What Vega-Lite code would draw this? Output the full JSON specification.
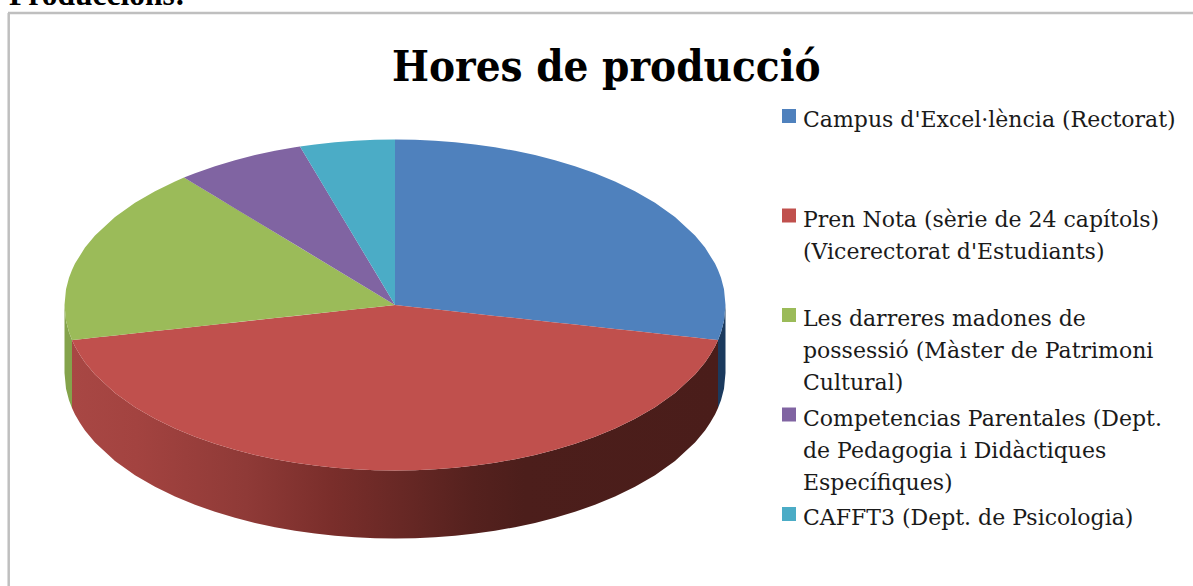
{
"$schema":"https://vega.github.io/schema/vega-lite/v6.json",
"width":1193,"height":586,"padding":0,"autosize":{"type":"none"},
"background":"#ffffff",
"config":{"view":{"stroke":null}},
"title":{"text":"Hores de producció","font":"DejaVu Serif Condensed","fontWeight":"bold","fontSize":43.5,"color":"#000000","anchor":"start","frame":"group","dx":392,"dy":144,"offset":0,"baseline":"alphabetic"},
"datasets":{
"slices":[
{"slice":"Campus d'Excel·lència (Rectorat)","x":395,"y":139.5,"y2":305},{"slice":"Campus d'Excel·lència (Rectorat)","x":415,"y":139.8,"y2":307.2},{"slice":"Campus d'Excel·lència (Rectorat)","x":435,"y":140.7,"y2":309.3},{"slice":"Campus d'Excel·lència (Rectorat)","x":455,"y":142.3,"y2":311.5},{"slice":"Campus d'Excel·lència (Rectorat)","x":475,"y":144.4,"y2":313.7},{"slice":"Campus d'Excel·lència (Rectorat)","x":495,"y":147.3,"y2":315.9},{"slice":"Campus d'Excel·lència (Rectorat)","x":515,"y":150.8,"y2":318},{"slice":"Campus d'Excel·lència (Rectorat)","x":535,"y":155.1,"y2":320.2},{"slice":"Campus d'Excel·lència (Rectorat)","x":555,"y":160.2,"y2":322.4},{"slice":"Campus d'Excel·lència (Rectorat)","x":575,"y":166.2,"y2":324.6},{"slice":"Campus d'Excel·lència (Rectorat)","x":595,"y":173.2,"y2":326.7},{"slice":"Campus d'Excel·lència (Rectorat)","x":615,"y":181.5,"y2":328.9},{"slice":"Campus d'Excel·lència (Rectorat)","x":635,"y":191.2,"y2":331.1},{"slice":"Campus d'Excel·lència (Rectorat)","x":655,"y":202.8,"y2":333.3},{"slice":"Campus d'Excel·lència (Rectorat)","x":675,"y":217.1,"y2":335.4},{"slice":"Campus d'Excel·lència (Rectorat)","x":695,"y":235.6,"y2":337.6},{"slice":"Campus d'Excel·lència (Rectorat)","x":705,"y":247.6,"y2":338.7},{"slice":"Campus d'Excel·lència (Rectorat)","x":715,"y":263.6,"y2":339.8},{"slice":"Campus d'Excel·lència (Rectorat)","x":718,"y":269.9,"y2":340.1},{"slice":"Campus d'Excel·lència (Rectorat)","x":721,"y":277.8,"y2":332.2},{"slice":"Campus d'Excel·lència (Rectorat)","x":724,"y":289.3,"y2":320.7},{"slice":"Campus d'Excel·lència (Rectorat)","x":725.5,"y":305,"y2":305},
{"slice":"Pren Nota (sèrie de 24 capítols) (Vicerectorat d'Estudiants)","x":72,"y":340.1,"y2":340.1},{"slice":"Pren Nota (sèrie de 24 capítols) (Vicerectorat d'Estudiants)","x":75,"y":339.8,"y2":346.4},{"slice":"Pren Nota (sèrie de 24 capítols) (Vicerectorat d'Estudiants)","x":80,"y":339.2,"y2":355.1},{"slice":"Pren Nota (sèrie de 24 capítols) (Vicerectorat d'Estudiants)","x":85,"y":338.7,"y2":362.4},{"slice":"Pren Nota (sèrie de 24 capítols) (Vicerectorat d'Estudiants)","x":95,"y":337.6,"y2":374.4},{"slice":"Pren Nota (sèrie de 24 capítols) (Vicerectorat d'Estudiants)","x":115,"y":335.4,"y2":392.9},{"slice":"Pren Nota (sèrie de 24 capítols) (Vicerectorat d'Estudiants)","x":135,"y":333.3,"y2":407.2},{"slice":"Pren Nota (sèrie de 24 capítols) (Vicerectorat d'Estudiants)","x":155,"y":331.1,"y2":418.8},{"slice":"Pren Nota (sèrie de 24 capítols) (Vicerectorat d'Estudiants)","x":175,"y":328.9,"y2":428.5},{"slice":"Pren Nota (sèrie de 24 capítols) (Vicerectorat d'Estudiants)","x":195,"y":326.7,"y2":436.8},{"slice":"Pren Nota (sèrie de 24 capítols) (Vicerectorat d'Estudiants)","x":215,"y":324.6,"y2":443.8},{"slice":"Pren Nota (sèrie de 24 capítols) (Vicerectorat d'Estudiants)","x":235,"y":322.4,"y2":449.8},{"slice":"Pren Nota (sèrie de 24 capítols) (Vicerectorat d'Estudiants)","x":255,"y":320.2,"y2":454.9},{"slice":"Pren Nota (sèrie de 24 capítols) (Vicerectorat d'Estudiants)","x":275,"y":318,"y2":459.2},{"slice":"Pren Nota (sèrie de 24 capítols) (Vicerectorat d'Estudiants)","x":295,"y":315.9,"y2":462.7},{"slice":"Pren Nota (sèrie de 24 capítols) (Vicerectorat d'Estudiants)","x":315,"y":313.7,"y2":465.6},{"slice":"Pren Nota (sèrie de 24 capítols) (Vicerectorat d'Estudiants)","x":335,"y":311.5,"y2":467.7},{"slice":"Pren Nota (sèrie de 24 capítols) (Vicerectorat d'Estudiants)","x":355,"y":309.3,"y2":469.3},{"slice":"Pren Nota (sèrie de 24 capítols) (Vicerectorat d'Estudiants)","x":375,"y":307.2,"y2":470.2},{"slice":"Pren Nota (sèrie de 24 capítols) (Vicerectorat d'Estudiants)","x":395,"y":305,"y2":470.5},{"slice":"Pren Nota (sèrie de 24 capítols) (Vicerectorat d'Estudiants)","x":415,"y":307.2,"y2":470.2},{"slice":"Pren Nota (sèrie de 24 capítols) (Vicerectorat d'Estudiants)","x":435,"y":309.3,"y2":469.3},{"slice":"Pren Nota (sèrie de 24 capítols) (Vicerectorat d'Estudiants)","x":455,"y":311.5,"y2":467.7},{"slice":"Pren Nota (sèrie de 24 capítols) (Vicerectorat d'Estudiants)","x":475,"y":313.7,"y2":465.6},{"slice":"Pren Nota (sèrie de 24 capítols) (Vicerectorat d'Estudiants)","x":495,"y":315.9,"y2":462.7},{"slice":"Pren Nota (sèrie de 24 capítols) (Vicerectorat d'Estudiants)","x":515,"y":318,"y2":459.2},{"slice":"Pren Nota (sèrie de 24 capítols) (Vicerectorat d'Estudiants)","x":535,"y":320.2,"y2":454.9},{"slice":"Pren Nota (sèrie de 24 capítols) (Vicerectorat d'Estudiants)","x":555,"y":322.4,"y2":449.8},{"slice":"Pren Nota (sèrie de 24 capítols) (Vicerectorat d'Estudiants)","x":575,"y":324.6,"y2":443.8},{"slice":"Pren Nota (sèrie de 24 capítols) (Vicerectorat d'Estudiants)","x":595,"y":326.7,"y2":436.8},{"slice":"Pren Nota (sèrie de 24 capítols) (Vicerectorat d'Estudiants)","x":615,"y":328.9,"y2":428.5},{"slice":"Pren Nota (sèrie de 24 capítols) (Vicerectorat d'Estudiants)","x":635,"y":331.1,"y2":418.8},{"slice":"Pren Nota (sèrie de 24 capítols) (Vicerectorat d'Estudiants)","x":655,"y":333.3,"y2":407.2},{"slice":"Pren Nota (sèrie de 24 capítols) (Vicerectorat d'Estudiants)","x":675,"y":335.4,"y2":392.9},{"slice":"Pren Nota (sèrie de 24 capítols) (Vicerectorat d'Estudiants)","x":695,"y":337.6,"y2":374.4},{"slice":"Pren Nota (sèrie de 24 capítols) (Vicerectorat d'Estudiants)","x":705,"y":338.7,"y2":362.4},{"slice":"Pren Nota (sèrie de 24 capítols) (Vicerectorat d'Estudiants)","x":710,"y":339.2,"y2":355.1},{"slice":"Pren Nota (sèrie de 24 capítols) (Vicerectorat d'Estudiants)","x":715,"y":339.8,"y2":346.4},{"slice":"Pren Nota (sèrie de 24 capítols) (Vicerectorat d'Estudiants)","x":718,"y":340.1,"y2":340.1},
{"slice":"Les darreres madones de possessió (Màster de Patrimoni Cultural)","x":64.5,"y":305,"y2":305},{"slice":"Les darreres madones de possessió (Màster de Patrimoni Cultural)","x":66,"y":289.3,"y2":320.7},{"slice":"Les darreres madones de possessió (Màster de Patrimoni Cultural)","x":69,"y":277.8,"y2":332.2},{"slice":"Les darreres madones de possessió (Màster de Patrimoni Cultural)","x":72,"y":269.9,"y2":340.1},{"slice":"Les darreres madones de possessió (Màster de Patrimoni Cultural)","x":75,"y":263.6,"y2":339.8},{"slice":"Les darreres madones de possessió (Màster de Patrimoni Cultural)","x":85,"y":247.6,"y2":338.7},{"slice":"Les darreres madones de possessió (Màster de Patrimoni Cultural)","x":95,"y":235.6,"y2":337.6},{"slice":"Les darreres madones de possessió (Màster de Patrimoni Cultural)","x":115,"y":217.1,"y2":335.4},{"slice":"Les darreres madones de possessió (Màster de Patrimoni Cultural)","x":135,"y":202.8,"y2":333.3},{"slice":"Les darreres madones de possessió (Màster de Patrimoni Cultural)","x":155,"y":191.2,"y2":331.1},{"slice":"Les darreres madones de possessió (Màster de Patrimoni Cultural)","x":175,"y":181.5,"y2":328.9},{"slice":"Les darreres madones de possessió (Màster de Patrimoni Cultural)","x":184,"y":177.6,"y2":327.9},{"slice":"Les darreres madones de possessió (Màster de Patrimoni Cultural)","x":395,"y":305,"y2":305},
{"slice":"Competencias Parentales (Dept. de Pedagogia i Didàctiques Específiques)","x":184,"y":177.6,"y2":177.6},{"slice":"Competencias Parentales (Dept. de Pedagogia i Didàctiques Específiques)","x":195,"y":173.2,"y2":184.2},{"slice":"Competencias Parentales (Dept. de Pedagogia i Didàctiques Específiques)","x":215,"y":166.2,"y2":196.3},{"slice":"Competencias Parentales (Dept. de Pedagogia i Didàctiques Específiques)","x":235,"y":160.2,"y2":208.4},{"slice":"Competencias Parentales (Dept. de Pedagogia i Didàctiques Específiques)","x":255,"y":155.1,"y2":220.5},{"slice":"Competencias Parentales (Dept. de Pedagogia i Didàctiques Específiques)","x":275,"y":150.8,"y2":232.5},{"slice":"Competencias Parentales (Dept. de Pedagogia i Didàctiques Específiques)","x":295,"y":147.3,"y2":244.6},{"slice":"Competencias Parentales (Dept. de Pedagogia i Didàctiques Específiques)","x":300,"y":146.5,"y2":247.6},{"slice":"Competencias Parentales (Dept. de Pedagogia i Didàctiques Específiques)","x":395,"y":305,"y2":305},
{"slice":"CAFFT3 (Dept. de Psicologia)","x":300,"y":146.5,"y2":146.5},{"slice":"CAFFT3 (Dept. de Psicologia)","x":315,"y":144.4,"y2":171.5},{"slice":"CAFFT3 (Dept. de Psicologia)","x":335,"y":142.3,"y2":204.9},{"slice":"CAFFT3 (Dept. de Psicologia)","x":355,"y":140.7,"y2":238.3},{"slice":"CAFFT3 (Dept. de Psicologia)","x":375,"y":139.8,"y2":271.6},{"slice":"CAFFT3 (Dept. de Psicologia)","x":395,"y":139.5,"y2":305}
],
"walls":[
{"part":"green","x":64.5,"y":305,"y2":373},{"part":"green","x":66,"y":320.7,"y2":388.7},{"part":"green","x":69,"y":332.2,"y2":400.2},{"part":"green","x":72,"y":340.1,"y2":408.1},
{"part":"blue","x":718,"y":340.1,"y2":408.1},{"part":"blue","x":721,"y":332.2,"y2":400.2},{"part":"blue","x":724,"y":320.7,"y2":388.7},{"part":"blue","x":725.5,"y":305,"y2":373},
{"part":"red","x":72,"y":340.1,"y2":408.1},{"part":"red","x":75,"y":346.4,"y2":414.4},{"part":"red","x":80,"y":355.1,"y2":423.1},{"part":"red","x":85,"y":362.4,"y2":430.4},{"part":"red","x":95,"y":374.4,"y2":442.4},{"part":"red","x":115,"y":392.9,"y2":460.9},{"part":"red","x":135,"y":407.2,"y2":475.2},{"part":"red","x":155,"y":418.8,"y2":486.8},{"part":"red","x":175,"y":428.5,"y2":496.5},{"part":"red","x":195,"y":436.8,"y2":504.8},{"part":"red","x":215,"y":443.8,"y2":511.8},{"part":"red","x":235,"y":449.8,"y2":517.8},{"part":"red","x":255,"y":454.9,"y2":522.9},{"part":"red","x":275,"y":459.2,"y2":527.2},{"part":"red","x":295,"y":462.7,"y2":530.7},{"part":"red","x":315,"y":465.6,"y2":533.6},{"part":"red","x":335,"y":467.7,"y2":535.7},{"part":"red","x":355,"y":469.3,"y2":537.3},{"part":"red","x":375,"y":470.2,"y2":538.2},{"part":"red","x":395,"y":470.5,"y2":538.5},{"part":"red","x":415,"y":470.2,"y2":538.2},{"part":"red","x":435,"y":469.3,"y2":537.3},{"part":"red","x":455,"y":467.7,"y2":535.7},{"part":"red","x":475,"y":465.6,"y2":533.6},{"part":"red","x":495,"y":462.7,"y2":530.7},{"part":"red","x":515,"y":459.2,"y2":527.2},{"part":"red","x":535,"y":454.9,"y2":522.9},{"part":"red","x":555,"y":449.8,"y2":517.8},{"part":"red","x":575,"y":443.8,"y2":511.8},{"part":"red","x":595,"y":436.8,"y2":504.8},{"part":"red","x":615,"y":428.5,"y2":496.5},{"part":"red","x":635,"y":418.8,"y2":486.8},{"part":"red","x":655,"y":407.2,"y2":475.2},{"part":"red","x":675,"y":392.9,"y2":460.9},{"part":"red","x":695,"y":374.4,"y2":442.4},{"part":"red","x":705,"y":362.4,"y2":430.4},{"part":"red","x":710,"y":355.1,"y2":423.1},{"part":"red","x":715,"y":346.4,"y2":414.4},{"part":"red","x":718,"y":340.1,"y2":408.1}
]
},
"layer":[
{"data":{"values":[{"x":8.7,"x2":8.7,"y":13,"y2":586},{"x":8,"x2":1193,"y":13,"y2":13}]},
 "mark":{"type":"rule","color":"#bfbfbf","strokeWidth":2.5},
 "encoding":{"x":{"field":"x","type":"quantitative","scale":{"domain":[0,1193],"nice":false,"zero":false},"axis":null},"x2":{"field":"x2"},"y":{"field":"y","type":"quantitative","scale":{"domain":[586,0],"nice":false,"zero":false},"axis":null},"y2":{"field":"y2"}}},
{"data":{"name":"walls"},"transform":[{"filter":"datum.part==='green'"}],
 "mark":{"type":"area","color":"#84a34b"},
 "encoding":{"x":{"field":"x","type":"quantitative"},"y":{"field":"y","type":"quantitative"},"y2":{"field":"y2"}}},
{"data":{"name":"walls"},"transform":[{"filter":"datum.part==='blue'"}],
 "mark":{"type":"area","color":"#1b3a5e"},
 "encoding":{"x":{"field":"x","type":"quantitative"},"y":{"field":"y","type":"quantitative"},"y2":{"field":"y2"}}},
{"data":{"name":"walls"},"transform":[{"filter":"datum.part==='red'"}],
 "mark":{"type":"area","color":{"gradient":"linear","x1":0,"x2":1,"y1":0,"y2":0,"stops":[{"offset":0,"color":"#a84744"},{"offset":0.1,"color":"#a34340"},{"offset":0.27,"color":"#8f3a37"},{"offset":0.4,"color":"#7a2e2b"},{"offset":0.51,"color":"#682825"},{"offset":0.62,"color":"#55211e"},{"offset":0.7,"color":"#4c1e1b"},{"offset":1,"color":"#4a1d1a"}]}},
 "encoding":{"x":{"field":"x","type":"quantitative"},"y":{"field":"y","type":"quantitative"},"y2":{"field":"y2"}}},
{"data":{"name":"slices"},
 "mark":{"type":"area"},
 "encoding":{"x":{"field":"x","type":"quantitative"},"y":{"field":"y","type":"quantitative"},"y2":{"field":"y2"},
 "color":{"field":"slice","type":"nominal","sort":null,
  "scale":{"domain":["Campus d'Excel·lència (Rectorat)","Pren Nota (sèrie de 24 capítols) (Vicerectorat d'Estudiants)","Les darreres madones de possessió (Màster de Patrimoni Cultural)","Competencias Parentales (Dept. de Pedagogia i Didàctiques Específiques)","CAFFT3 (Dept. de Psicologia)"],"range":["#4f81bd","#c0504d","#9bbb59","#8064a2","#4bacc6"]},
  "legend":{"orient":"none","legendX":778,"legendY":105,"title":null,"symbolType":"square","symbolSize":196,"symbolOpacity":1,"symbolStrokeWidth":0,"labelFont":"DejaVu Serif","labelFontSize":22,"labelColor":"#1a1a1a","labelLimit":0,"labelBaseline":"top","labelOffset":3,"rowPadding":9.5,"encoding":{"labels":{"lineHeight":{"value":32},"dy":{"value":-6}}},"labelExpr":"indexof(datum.label,'Campus')===0?['Campus d\\'Excel·lència (Rectorat)','','']:indexof(datum.label,'Pren')===0?['Pren Nota (sèrie de 24 capítols)','(Vicerectorat d\\'Estudiants)','']:indexof(datum.label,'Les')===0?['Les darreres madones de','possessió (Màster de Patrimoni','Cultural)']:indexof(datum.label,'Comp')===0?['Competencias Parentales (Dept.','de Pedagogia i Didàctiques','Específiques)']:['CAFFT3 (Dept. de Psicologia)']","labelFontWeight":"normal"}}}},
{"data":{"values":[{"label":"Produccions:","x":9,"y":5}]},
 "mark":{"type":"text","font":"Liberation Serif","fontWeight":"bold","fontSize":31.5,"align":"left","baseline":"alphabetic","color":"#000000"},
 "encoding":{"x":{"field":"x","type":"quantitative"},"y":{"field":"y","type":"quantitative"},"text":{"field":"label"}}}
]
}
